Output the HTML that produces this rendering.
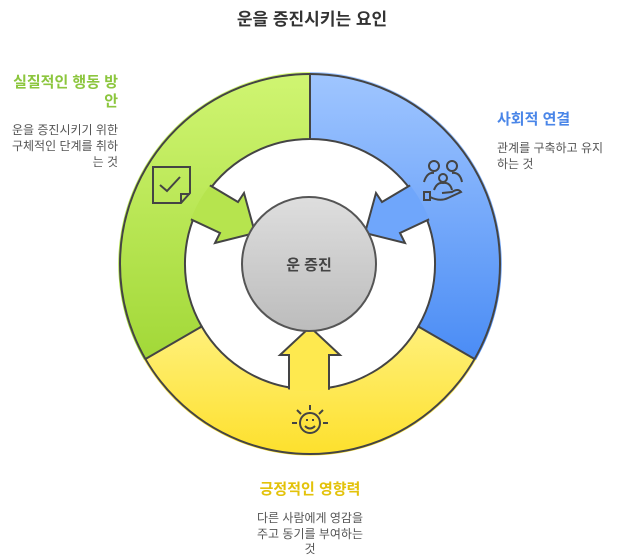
<!DOCTYPE html>
<html><head><meta charset="utf-8"><style>
body{margin:0;background:#fff;width:625px;height:555px;overflow:hidden}
svg text{font-family:"Liberation Sans","Noto Sans CJK KR",sans-serif}
</style></head><body>
<svg width="625" height="555" viewBox="0 0 625 555">
<defs>
<linearGradient id="g" x1="0" y1="0" x2="0" y2="1"><stop offset="0" stop-color="#d0f572"/><stop offset="1" stop-color="#a2d838"/></linearGradient>
<linearGradient id="b" x1="0" y1="0" x2="0" y2="1"><stop offset="0" stop-color="#a0c6ff"/><stop offset="1" stop-color="#4a8cf5"/></linearGradient>
<linearGradient id="y" x1="0" y1="0" x2="0" y2="1"><stop offset="0" stop-color="#fff07a"/><stop offset="1" stop-color="#fde02c"/></linearGradient>
<linearGradient id="c" x1="0" y1="0" x2="0" y2="1"><stop offset="0" stop-color="#dedede"/><stop offset="1" stop-color="#bcbcbc"/></linearGradient>
</defs>
<text x="312" y="25" font-size="17" font-weight="bold" fill="#333" text-anchor="middle">운을 증진시키는 요인</text>
<g stroke="#444" stroke-width="2" stroke-linejoin="miter">
<path d="M310,74 A190,190 0 0 0 145.5,359 L201.7,326.5 A125,125 0 0 1 310,139 Z" fill="url(#g)"/>
<path d="M310,74 A190,190 0 0 1 474.5,359 L418.3,326.5 A125,125 0 0 0 310,139 Z" fill="url(#b)"/>
<path d="M145.5,359 A190,190 0 0 0 474.5,359 L418.3,326.5 A125,125 0 0 1 201.7,326.5 Z" fill="url(#y)"/>
<polygon points="206,183 238,202 244,193 255,233 215,243 220,233 186,217" fill="#b6e44e"/>
<polygon points="414,183 382,202 376,193 365,233 405,243 400,233 434,217" fill="#6fa6fb"/>
<polygon points="289,396 289,355 280,355 310,327 340,355 329,355 329,396" fill="#fee94f"/>
</g>
<g stroke="none">
<path d="M310,72 A192,192 0 0 0 144,360 L199.8,327.8 A127.5,127.5 0 0 1 310,136.5 Z" fill="url(#g)"/>
<path d="M310,72 A192,192 0 0 1 476,360 L420.2,327.8 A127.5,127.5 0 0 0 310,136.5 Z" fill="url(#b)"/>
<path d="M144,360 A192,192 0 0 0 476,360 L420.2,327.8 A127.5,127.5 0 0 1 199.8,327.8 Z" fill="url(#y)"/>
</g>
<g stroke="#444" stroke-width="2" fill="none">
<circle cx="310" cy="264" r="190"/>
<line x1="310" y1="74" x2="310" y2="139"/>
<line x1="145.5" y1="359" x2="201.7" y2="326.5"/>
<line x1="474.5" y1="359" x2="418.3" y2="326.5"/>
</g>
<circle cx="309" cy="264" r="67" fill="url(#c)" stroke="#555" stroke-width="2"/>
<text x="309" y="270" font-size="15" font-weight="bold" fill="#444" text-anchor="middle">운 증진</text>
<g stroke="#444" stroke-width="2" fill="none">
<path d="M153,167 H190 V193 L181,203 H153 Z M181,203 V194 H190"/>
<path d="M160,185 L167,191 L180,177"/>
<circle cx="434" cy="166" r="5"/><circle cx="452" cy="166" r="5"/><circle cx="443" cy="178" r="4"/>
<path d="M424,182 Q427,172 434,173 M462,182 Q460,172 452,173 M434,190 Q437,182 443,183 Q450,182 452,190"/>
<path d="M424,192 V200 H430 V192 Z M430,197 Q440,202 448,198 L461,192 Q458,188 452,192 L442,193"/>
<circle cx="310" cy="423" r="10"/>
<path d="M305,426 Q310,431 315,426 M306,420 h2 M312,420 h2 M310,405 v5 M297,410 l4,4 M323,410 l-4,4 M292,423 h5 M328,423 h-5"/>
</g>
<text font-size="15" font-weight="bold" fill="#8cc63e" text-anchor="end"><tspan x="118" y="87">실질적인 행동 방</tspan><tspan x="118" y="106">안</tspan></text>
<text font-size="12" fill="#555" text-anchor="end"><tspan x="118" y="134">운을 증진시키기 위한</tspan><tspan x="118" y="150">구체적인 단계를 취하</tspan><tspan x="118" y="166">는 것</tspan></text>
<text x="497" y="124" font-size="15" font-weight="bold" fill="#4a86e8">사회적 연결</text>
<text font-size="12" fill="#555"><tspan x="497" y="152">관계를 구축하고 유지</tspan><tspan x="497" y="168">하는 것</tspan></text>
<text x="310" y="494" font-size="15" font-weight="bold" fill="#e3c20a" text-anchor="middle">긍정적인 영향력</text>
<text font-size="12" fill="#555" text-anchor="middle"><tspan x="310" y="522">다른 사람에게 영감을</tspan><tspan x="310" y="538">주고 동기를 부여하는</tspan><tspan x="310" y="553">것</tspan></text>
</svg>
</body></html>
